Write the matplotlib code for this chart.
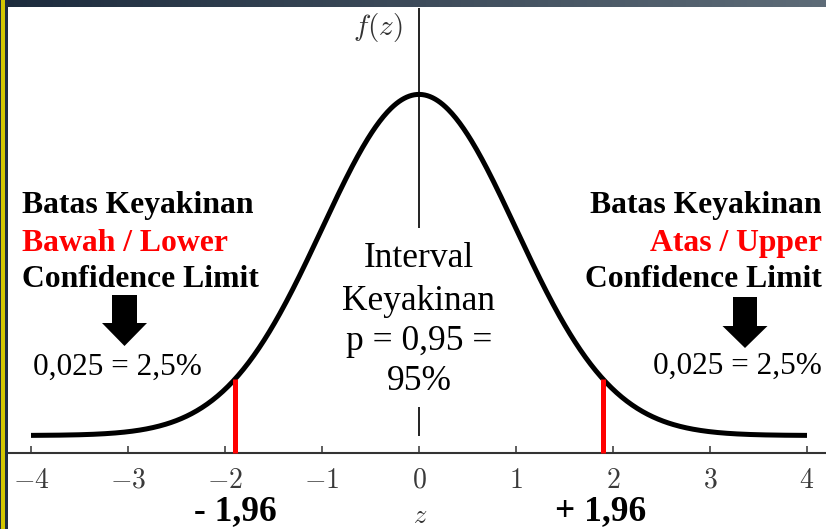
import numpy as np
import matplotlib
matplotlib.use("Agg")
import matplotlib.pyplot as plt
from matplotlib.patches import Polygon, Rectangle
from matplotlib.colors import LinearSegmentedColormap

plt.rcParams['mathtext.fontset'] = 'cm'

# ---- data ----
mean = 0.0
sd = 1.0
z_min, z_max = -4.0, 4.0
lower_limit = -1.9
upper_limit = 1.9
tick_values = [-4, -3, -2, -1, 0, 1, 2, 3, 4]
tick_labels = [r'$-4$', r'$-3$', r'$-2$', r'$-1$', r'$0$', r'$1$', r'$2$', r'$3$', r'$4$']
left_lines = ["Batas Keyakinan", "Bawah / Lower", "Confidence Limit"]
right_lines = ["Batas Keyakinan", "Atas / Upper", "Confidence Limit"]
tail_text = "0,025 = 2,5%"
center_lines = ["Interval", "Keyakinan", "p = 0,95 =", "95%"]
lower_label = "- 1,96"
upper_label = "+ 1,96"

W, H = 826, 529
fig = plt.figure(figsize=(W / 100, H / 100), dpi=100)
fig.patch.set_facecolor('white')

# main axes spanning whole figure; pixel geometry
px_per_x = 97.0
px_per_y = 855.0
x0_px = 419.0      # z = 0
axis_px = 453.0    # y = 0 (from top)
ax = fig.add_axes([0, 0, 1, 1])
ax.set_xlim(-x0_px / px_per_x, (W - x0_px) / px_per_x)
ax.set_ylim(-(H - axis_px) / px_per_y, axis_px / px_per_y)
ax.set_facecolor('none')
for s in ['left', 'right', 'top']:
    ax.spines[s].set_visible(False)
ax.spines['bottom'].set_position(('data', 0))
ax.spines['bottom'].set_color('#333333')
ax.spines['bottom'].set_linewidth(1.5)
ax.set_yticks([])
ax.set_xticks(tick_values)
ax.set_xticklabels(tick_labels)
ax.tick_params(axis='x', direction='in', length=5, width=1.1, color='#333333',
               labelsize=20, labelcolor='#3a3a3a', pad=9)

def py(y_px):
    return (axis_px - y_px) / px_per_y

base = py(435.5)
z = np.linspace(z_min, z_max, 600)
pdf = np.exp(-0.5 * ((z - mean) / sd) ** 2) / (sd * np.sqrt(2 * np.pi))
ax.plot(z, base + pdf, color='black', lw=3.6, solid_capstyle='butt', zorder=3)

def curve_at(v):
    return base + np.exp(-0.5 * ((v - mean) / sd) ** 2) / (sd * np.sqrt(2 * np.pi))

ax.vlines([lower_limit, upper_limit], 0, [curve_at(lower_limit), curve_at(upper_limit)],
          color='#ff0000', lw=3.6, zorder=4)
# vertical axis, interrupted behind the central label
ax.vlines([0, 0], [base, py(228)], [py(407), py(8)], color='#222222', lw=1.4, zorder=2)

# ---- text (figure pixel coords) ----
def fx(x):
    return x / W

def fy(y):
    return 1 - y / H

bold = dict(family='Liberation Serif', weight='bold', fontsize=22.8)
reg = dict(family='Liberation Serif', fontsize=22.5)

lcolors = ['black', '#ff0000', 'black']
for txt, c, yb in zip(left_lines, lcolors, [213, 251, 287]):
    fig.text(fx(22), fy(yb), txt, color=c, ha='left', va='baseline', **bold)
for txt, c, yb in zip(right_lines, lcolors, [213, 251, 287]):
    fig.text(fx(822), fy(yb), txt, color=c, ha='right', va='baseline', **bold)
fig.text(fx(33), fy(375), tail_text, ha='left', va='baseline', **reg)
fig.text(fx(822), fy(374), tail_text, ha='right', va='baseline', **reg)

for txt, yb in zip(center_lines, [267, 310, 350, 390]):
    fig.text(fx(419), fy(yb), txt, ha='center', va='baseline',
             family='Liberation Serif', fontsize=25.5)

fig.text(fx(235), fy(520), lower_label, ha='center', va='baseline',
         family='Liberation Serif', weight='bold', fontsize=25.5)
fig.text(fx(601), fy(520), upper_label, ha='center', va='baseline',
         family='Liberation Serif', weight='bold', fontsize=25.5)

fig.text(fx(378), fy(28), r'$f(z)$', ha='center', va='center', fontsize=21, color='#333333')
fig.text(fx(420), fy(516), r'$z$', ha='center', va='center', fontsize=19, color='#333333')

# arrows
def arrow(cx, top, neck, tip, sw, hw):
    pts = [(cx - sw / 2, top), (cx + sw / 2, top), (cx + sw / 2, neck), (cx + hw / 2, neck),
           (cx, tip), (cx - hw / 2, neck), (cx - sw / 2, neck)]
    fig.patches.append(Polygon([(fx(a), fy(b)) for a, b in pts], closed=True,
                               transform=fig.transFigure, facecolor='black', edgecolor='none'))

arrow(124.5, 295, 323, 346, 25, 45)
arrow(745, 297, 326, 348, 24, 45)

# ---- slide decoration ----
deco = fig.add_axes([0, 0, 1, 1], zorder=10)
deco.axis('off')
deco.patch.set_alpha(0)
grad = np.linspace(0, 1, 256)[None, :]
cmap = LinearSegmentedColormap.from_list('band', ['#1c2b3d', '#3d4b5a', '#5e6c78'])
deco.imshow(grad, extent=(0, W, 7, 0), aspect='auto', cmap=cmap, interpolation='bilinear')
deco.add_patch(Rectangle((0, 0), 7.5, H, facecolor='#1e2d3f', edgecolor='none'))
deco.add_patch(Rectangle((1.2, 0), 3.6, H, facecolor='#d2c600', edgecolor='none'))
deco.set_xlim(0, W)
deco.set_ylim(H, 0)

fig.savefig('out.png', dpi=100)
